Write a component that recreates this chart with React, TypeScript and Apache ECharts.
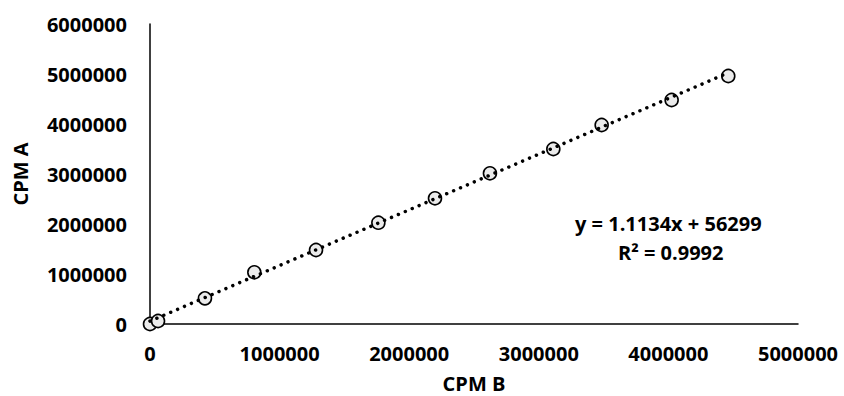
import React, { useEffect, useRef } from "react";
import * as echarts from "echarts";

const cpmB = [0, 62000, 424000, 805000, 1281000, 1762000, 2199000, 2623000, 3112000, 3485000, 4025000, 4462000];
const cpmA = [0, 60000, 513000, 1034000, 1480000, 2026000, 2514000, 3014000, 3500000, 3980000, 4480000, 4960000];
const slope = 1.1134;
const intercept = 56299;
const equationText = "y = 1.1134x + 56299";
const r2Text = "R² = 0.9992";
const xTitle = "CPM B";
const yTitle = "CPM A";

const FONT = "'Open Sans', sans-serif";

export default function App() {
  const ref = useRef<HTMLDivElement>(null);
  useEffect(() => {
    if (!ref.current) return;
    const chart = echarts.init(ref.current, undefined, { renderer: "svg" });
    const pts = cpmB.map((x, i) => [x, cpmA[i]]);
    const xmin = Math.min(...cpmB);
    const xmax = Math.max(...cpmB);
    const trend = [
      [xmin, slope * xmin + intercept],
      [xmax, slope * xmax + intercept],
    ];
    const labelStyle = { color: "#000", fontWeight: "bold" as const, fontSize: 20, fontFamily: FONT };
    const fmt = (v: number) => String(Math.round(v));
    chart.setOption({
      animation: false,
      backgroundColor: "#fff",
      grid: { left: 150, right: 46, top: 24, bottom: 72, containLabel: false, outerBoundsMode: "none" },
      xAxis: {
        type: "value",
        min: 0,
        max: 5000000,
        interval: 1000000,
        name: xTitle,
        nameLocation: "middle",
        nameGap: 49,
        nameTextStyle: labelStyle,
        axisLine: { show: true, lineStyle: { color: "#000", width: 1.5 } },
        axisTick: { show: false },
        splitLine: { show: false },
        axisLabel: { ...labelStyle, margin: 19, formatter: fmt },
      },
      yAxis: {
        type: "value",
        min: 0,
        max: 6000000,
        interval: 1000000,
        name: yTitle,
        nameLocation: "middle",
        nameGap: 120,
        nameTextStyle: labelStyle,
        axisLine: { show: true, lineStyle: { color: "#000", width: 1.5 } },
        axisTick: { show: false },
        splitLine: { show: false },
        axisLabel: { ...labelStyle, margin: 23, formatter: fmt },
      },
      graphic: [
        {
          type: "text",
          left: 575,
          top: 213,
          style: { text: equationText, fill: "#000", font: `bold 20px ${FONT}` },
        },
        {
          type: "text",
          left: 618,
          top: 242,
          style: { text: r2Text, fill: "#000", font: `bold 20px ${FONT}` },
        },
      ],
      series: [
        {
          type: "scatter",
          data: pts,
          symbol: "circle",
          symbolSize: 13,
          z: 2,
          itemStyle: { color: "#ebebeb", borderColor: "#000", borderWidth: 1.6, opacity: 1 },
        },
        {
          type: "line",
          data: trend,
          symbol: "none",
          z: 3,
          lineStyle: { color: "#000", width: 3.5, type: [0.01, 7.5], cap: "round" },
        },
      ],
    });
    return () => chart.dispose();
  }, []);
  return <div ref={ref} style={{ position: "fixed", left: 0, top: 0, width: 844, height: 396 }} />;
}
